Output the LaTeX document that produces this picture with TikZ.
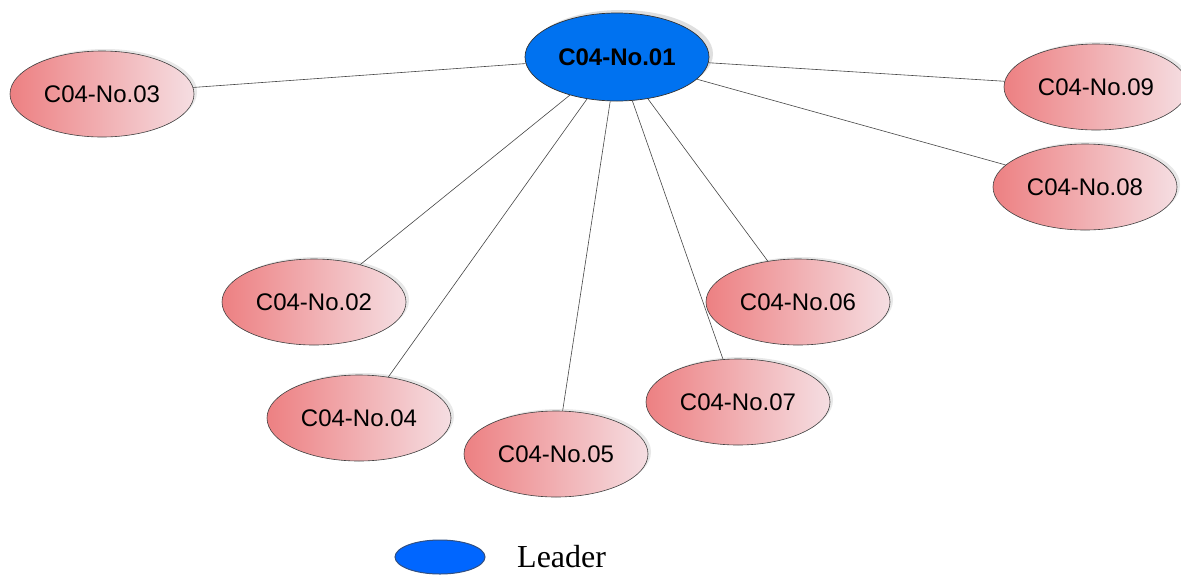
\documentclass[tikz,border=0pt]{standalone}
\usepackage{fontspec}
\setmainfont{Liberation Serif}
\newfontfamily\arialfont{Liberation Sans}
\usetikzlibrary{shapes.geometric,shadows}
\definecolor{pinkL}{RGB}{237,128,130}
\definecolor{pinkR}{RGB}{245,222,226}
\definecolor{leadblue}{RGB}{0,114,240}
\definecolor{legblue}{RGB}{0,102,255}
\definecolor{legedge}{RGB}{50,80,130}
\definecolor{edgegray}{RGB}{70,70,70}
\tikzset{
  member/.style={ellipse, draw=black!75, line width=0.6pt, left color=pinkL, right color=pinkR,
    minimum width=184pt, minimum height=86pt, inner sep=0pt,
    font=\arialfont\fontsize{24}{24}\selectfont,
    drop shadow={opacity=0.18, shadow xshift=3pt, shadow yshift=2pt}},
  leader/.style={ellipse, draw=black!80, line width=0.7pt, fill=leadblue,
    minimum width=184pt, minimum height=88pt, inner sep=0pt,
    font=\arialfont\bfseries\fontsize{24}{24}\selectfont,
    drop shadow={opacity=0.25, shadow xshift=4pt, shadow yshift=3pt}},
  link/.style={draw=edgegray, line width=0.6pt},
  legendmark/.style={ellipse, draw=legedge, line width=1pt, fill=legblue,
    minimum width=90pt, minimum height=34pt, inner sep=0pt}
}
\begin{document}
\begin{tikzpicture}[x=1pt,y=-1pt]
\useasboundingbox[fill=white] (0,0) rectangle (1181,574);
\node[leader] (n01) at (617,57) {C04-No.01};
\node[member] (n03) at (102,94) {C04-No.03};
\node[member] (n09) at (1096,87) {C04-No.09};
\node[member] (n08) at (1085,187) {C04-No.08};
\node[member] (n02) at (314,302) {C04-No.02};
\node[member] (n04) at (359,418) {C04-No.04};
\node[member] (n05) at (556,454) {C04-No.05};
\node[member] (n06) at (798,302) {C04-No.06};
\node[member] (n07) at (738,402) {C04-No.07};
\node[legendmark] (leg) at (440,557) {};
\node[anchor=west, font=\fontsize{32}{32}\selectfont, inner sep=0pt] (legtext) at (517,557) {Leader};
\foreach \t in {n03,n09,n08,n02,n04,n05,n06,n07}{
  \draw[link] (n01) -- (\t);
}
\end{tikzpicture}
\end{document}
